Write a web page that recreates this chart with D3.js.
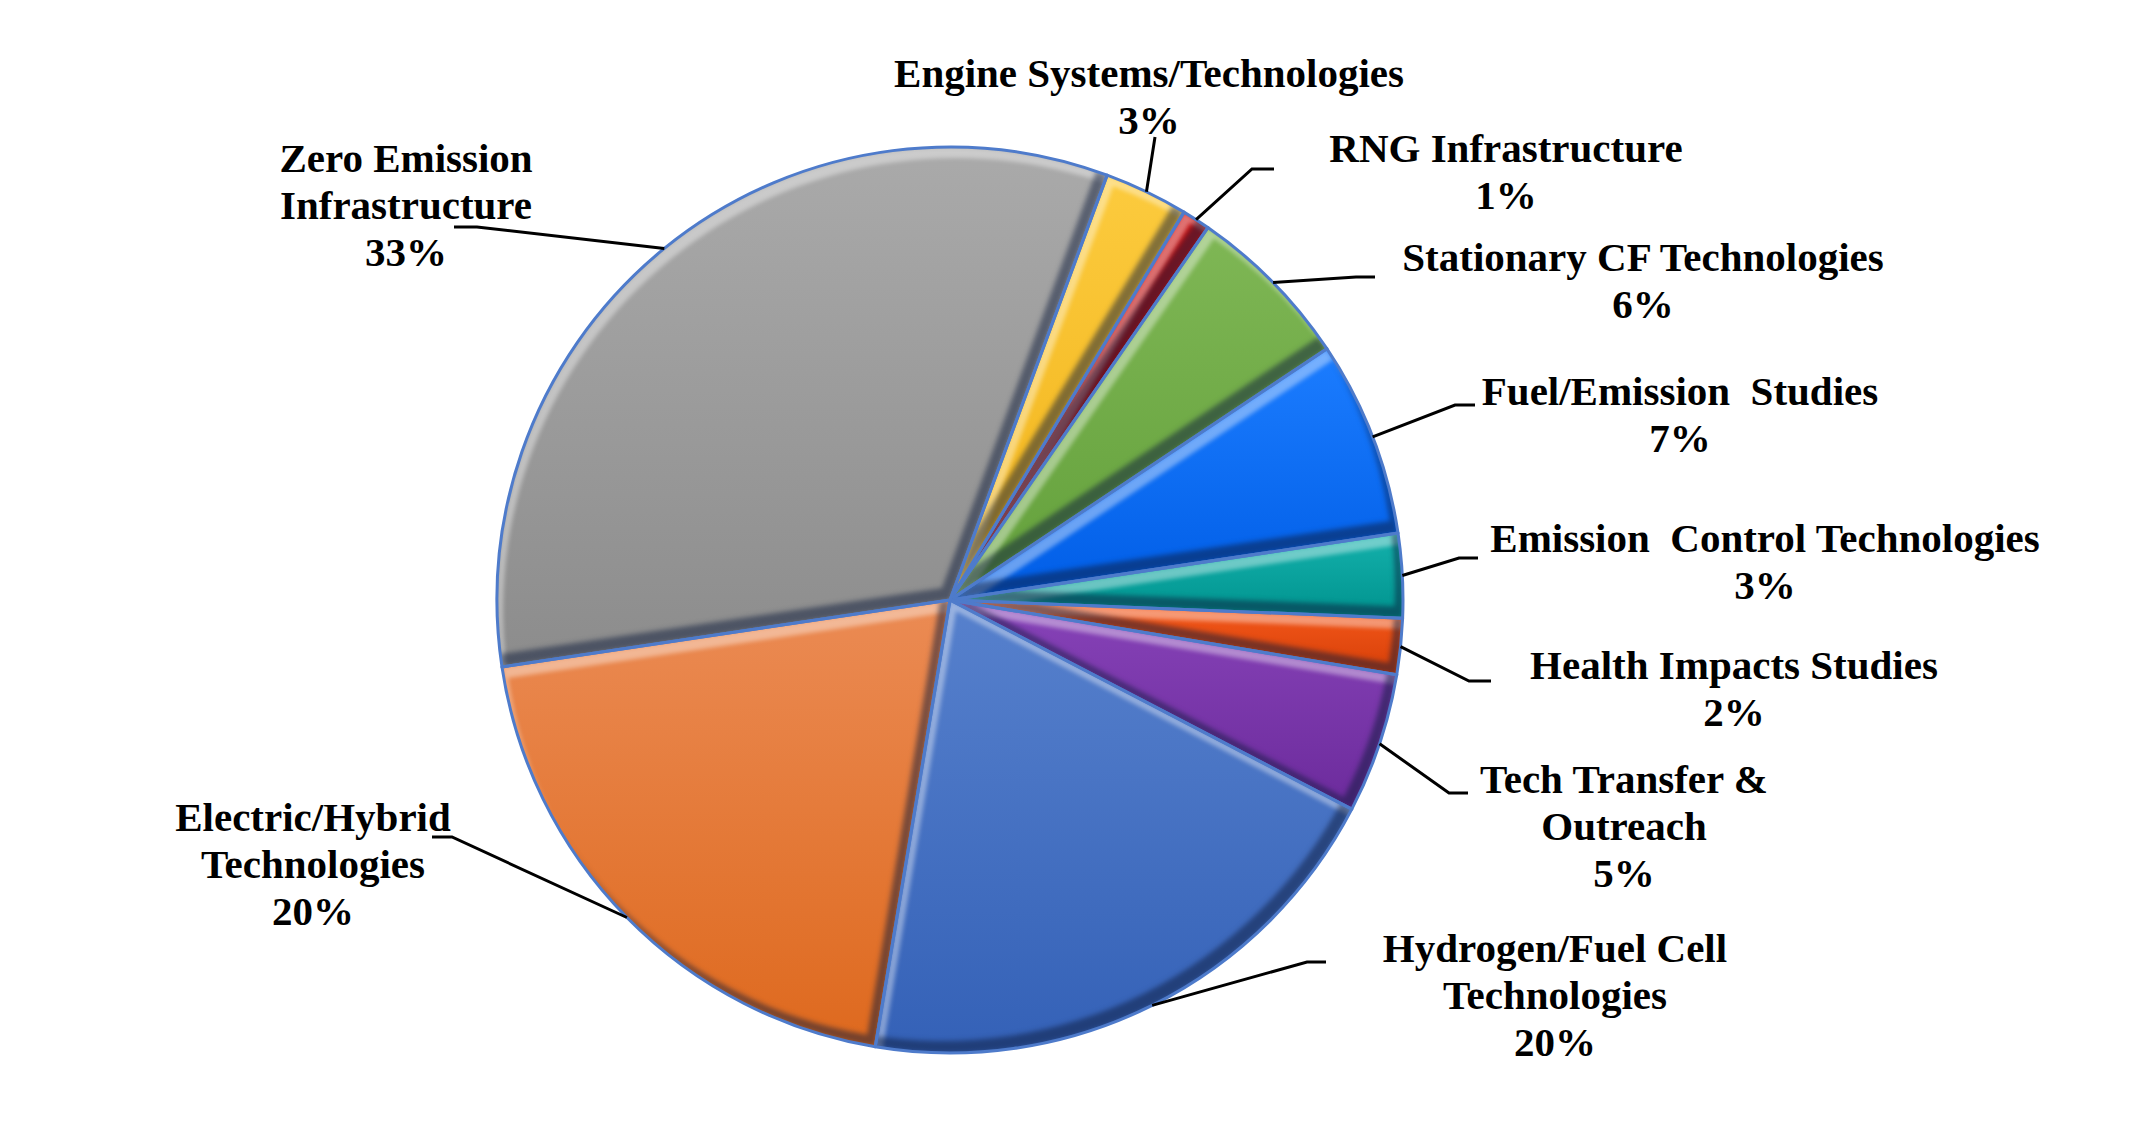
<!DOCTYPE html>
<html>
<head>
<meta charset="utf-8">
<script src="https://cdn.jsdelivr.net/npm/d3@7"></script>
<style>
  body { margin: 0; background: #fff; }
  svg text { font-family: "Liberation Serif", "Times New Roman", serif; font-weight: bold; white-space: pre; }
</style>
</head>
<body>
<svg id="chart" width="2145" height="1124"></svg>
<script>
// -----------------------
// Data
// -----------------------
const categories = [
  "Engine Systems/Technologies",
  "RNG Infrastructure",
  "Stationary CF Technologies",
  "Fuel/Emission Studies",
  "Emission Control Technologies",
  "Health Impacts Studies",
  "Tech Transfer & Outreach",
  "Hydrogen/Fuel Cell Technologies",
  "Electric/Hybrid Technologies",
  "Zero Emission Infrastructure"
];
const shares = [3, 1, 6, 7, 3, 2, 5, 20, 20, 33];
const labelText = [
  ["Engine Systems/Technologies"],
  ["RNG Infrastructure"],
  ["Stationary CF Technologies"],
  ["Fuel/Emission  Studies"],
  ["Emission  Control Technologies"],
  ["Health Impacts Studies"],
  ["Tech Transfer &", "Outreach"],
  ["Hydrogen/Fuel Cell", "Technologies"],
  ["Electric/Hybrid", "Technologies"],
  ["Zero Emission", "Infrastructure"]
];

// colours (top, bottom of each slice)
const palette = [
  ["#FCCB3E", "#F1B31A"],
  ["#CC1414", "#A00000"],
  ["#7FB755", "#63A03B"],
  ["#1C7DFF", "#005DE6"],
  ["#14B1AC", "#00938E"],
  ["#F75A1C", "#D63F08"],
  ["#8743B8", "#6C2B9C"],
  ["#5781CD", "#3461B7"],
  ["#EB8B54", "#DE691E"],
  ["#AAAAAA", "#8C8C8C"]
];

// label layout: centre x, first baseline, leader elbow and end
const labelLayout = [
  { cx: 1149, y: 87,  elbow: [1155, 137], end: [1155, 137] },
  { cx: 1506, y: 162, elbow: [1252, 169], end: [1274, 169] },
  { cx: 1643, y: 271, elbow: [1356, 277], end: [1375, 277] },
  { cx: 1680, y: 405, elbow: [1455, 405], end: [1475, 405] },
  { cx: 1765, y: 552, elbow: [1459, 558], end: [1478, 558] },
  { cx: 1734, y: 679, elbow: [1469, 681], end: [1491, 681] },
  { cx: 1624, y: 793, elbow: [1449, 793], end: [1468, 793] },
  { cx: 1555, y: 962, elbow: [1307, 962], end: [1326, 962] },
  { cx: 313,  y: 831, elbow: [452, 837],  end: [432, 837] },
  { cx: 406,  y: 172, elbow: [477, 227],  end: [454, 227] }
];

const cx = 950, cy = 600, radius = 453;
const lineHeight = 47;
const startAngle = 20.3 * Math.PI / 180;

const svg = d3.select("#chart");
const defs = svg.append("defs");

// per slice vertical gradient
palette.forEach((c, i) => {
  const g = defs.append("linearGradient")
    .attr("id", "grad" + i)
    .attr("x1", 0).attr("y1", 0).attr("x2", 0).attr("y2", 1);
  g.append("stop").attr("offset", "0%").attr("stop-color", c[0]);
  g.append("stop").attr("offset", "100%").attr("stop-color", c[1]);
});

// bevel: light band on top-left edges, dark band on bottom-right edges
const f = defs.append("filter").attr("id", "bevel")
  .attr("x", "-10%").attr("y", "-10%").attr("width", "120%").attr("height", "120%")
  .attr("color-interpolation-filters", "sRGB");
f.append("feOffset").attr("in", "SourceAlpha").attr("dx", 6).attr("dy", 11).attr("result", "offTL");
f.append("feComposite").attr("in", "SourceAlpha").attr("in2", "offTL").attr("operator", "out").attr("result", "bandTL");
f.append("feGaussianBlur").attr("in", "bandTL").attr("stdDeviation", 2).attr("result", "bandTLb");
f.append("feComposite").attr("in", "bandTLb").attr("in2", "SourceAlpha").attr("operator", "in").attr("result", "bandTLc");
f.append("feFlood").attr("flood-color", "#fff").attr("flood-opacity", 0.4);
f.append("feComposite").attr("in2", "bandTLc").attr("operator", "in").attr("result", "hi");
f.append("feOffset").attr("in", "SourceAlpha").attr("dx", -8).attr("dy", -12).attr("result", "offBR");
f.append("feComposite").attr("in", "SourceAlpha").attr("in2", "offBR").attr("operator", "out").attr("result", "bandBR");
f.append("feGaussianBlur").attr("in", "bandBR").attr("stdDeviation", 2.5).attr("result", "bandBRb");
f.append("feComposite").attr("in", "bandBRb").attr("in2", "SourceAlpha").attr("operator", "in").attr("result", "bandBRc");
f.append("feFlood").attr("flood-color", "#0b1a3a").attr("flood-opacity", 0.5);
f.append("feComposite").attr("in2", "bandBRc").attr("operator", "in").attr("result", "sh");
const merge = f.append("feMerge");
merge.append("feMergeNode").attr("in", "SourceGraphic");
merge.append("feMergeNode").attr("in", "hi");
merge.append("feMergeNode").attr("in", "sh");

const pie = d3.pie()
  .sort(null)
  .value(d => d)
  .startAngle(startAngle)
  .endAngle(startAngle + 2 * Math.PI);
const arcs = pie(shares);

const arc = d3.arc().innerRadius(0).outerRadius(radius);
const edgeArc = d3.arc().innerRadius(radius).outerRadius(radius);

const g = svg.append("g").attr("transform", `translate(${cx},${cy})`);

// Slices
g.selectAll(".slice")
  .data(arcs)
  .join("path")
  .attr("class", "slice")
  .attr("d", arc)
  .attr("fill", (d, i) => `url(#grad${i})`)
  .attr("filter", "url(#bevel)");

// Slice outlines
g.selectAll(".outline")
  .data(arcs)
  .join("path")
  .attr("class", "outline")
  .attr("d", arc)
  .attr("fill", "none")
  .attr("stroke", "#4E7BCB")
  .attr("stroke-width", 3)
  .attr("stroke-linejoin", "round");

// Leader lines
svg.selectAll(".leader")
  .data(arcs)
  .join("polyline")
  .attr("class", "leader")
  .attr("fill", "none")
  .attr("stroke", "#000")
  .attr("stroke-width", 3)
  .attr("points", (d, i) => {
    const p = edgeArc.centroid(d);
    const L = labelLayout[i];
    return [[p[0] + cx, p[1] + cy], L.elbow, L.end].map(q => q.join(",")).join(" ");
  });

// Labels
const labels = svg.selectAll(".label")
  .data(arcs)
  .join("text")
  .attr("class", "label")
  .attr("text-anchor", "middle")
  .attr("font-size", 41)
  .attr("fill", "#000");

labels.each(function (d, i) {
  const L = labelLayout[i];
  const lines = labelText[i].concat([d.data + "%"]);
  d3.select(this).selectAll("tspan")
    .data(lines)
    .join("tspan")
    .attr("x", L.cx)
    .attr("y", (t, j) => L.y + j * lineHeight)
    .text(t => t);
});
</script>
</body>
</html>
